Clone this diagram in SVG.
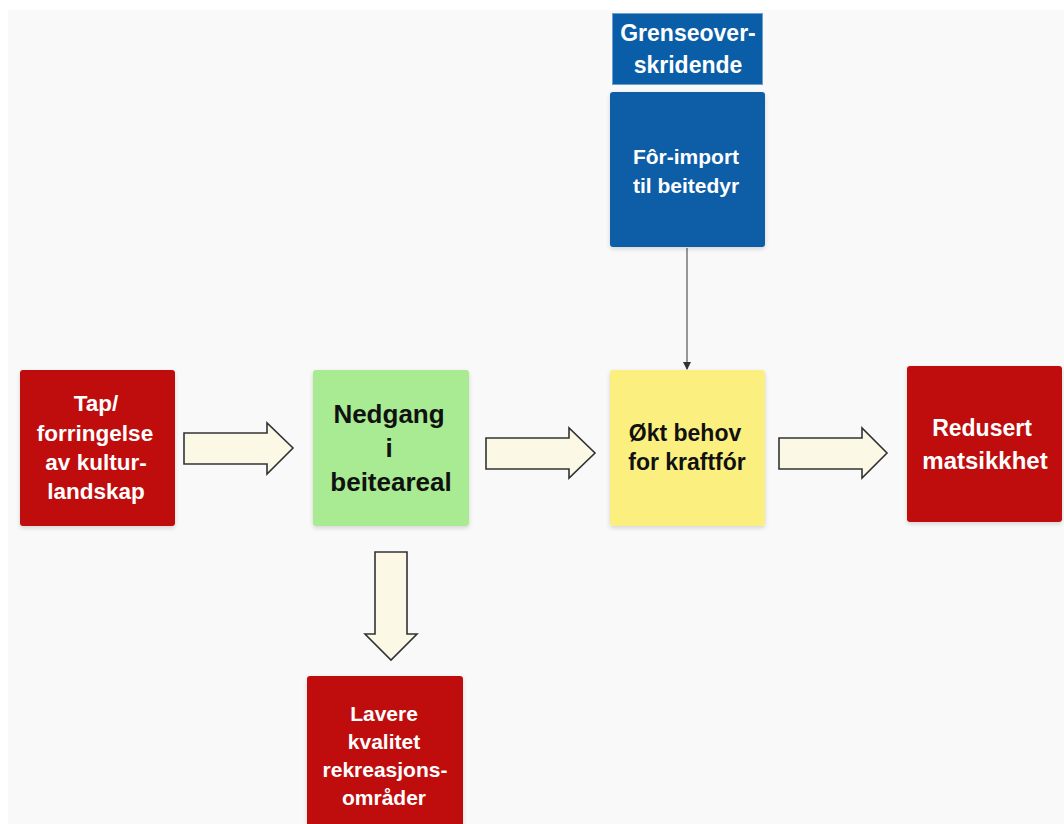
<svg xmlns="http://www.w3.org/2000/svg" width="1064" height="824" viewBox="0 0 1064 824">
<defs>
<style>
.t{font-family:"Liberation Sans",Arial,sans-serif;font-weight:bold;text-anchor:middle}
.w{fill:#ffffff}
.k{fill:#111111}
.red{fill:#bf0d0e}
.blue{fill:#0a5da7}
.bf{fill:#fbf8e6;stroke:#333333;stroke-width:1.6}
</style>
<filter id="sh" x="-10%" y="-10%" width="120%" height="125%">
<feDropShadow dx="0" dy="2" stdDeviation="2" flood-color="#000" flood-opacity="0.15"/>
</filter>
<marker id="ah" markerWidth="8" markerHeight="8" refX="7" refY="4" orient="auto" markerUnits="userSpaceOnUse">
<path d="M0,0 L8,4 L0,8 z" fill="#333"/>
</marker>
</defs>
<rect x="0" y="0" width="1064" height="824" fill="#ffffff"/>
<rect x="8" y="10" width="1056" height="814" fill="#f9f9f9"/>

<g id="connectors">
<path d="M184,433 H267 V423 L293,448 L267,474 V464 H184 Z" class="bf"/>
<path d="M486,438 H569 V428 L595,453 L569,478 V469 H486 Z" class="bf"/>
<path d="M779,438 H862 V428 L887,453 L862,478 V469 H779 Z" class="bf"/>
<path d="M375,552 H407 V634 H417 L391,660 L365,634 H375 Z" class="bf"/>
<line x1="687" y1="248" x2="687" y2="369" stroke="#555" stroke-width="1.2" marker-end="url(#ah)"/>
</g>

<g id="node-grense">
<rect x="612.5" y="13.5" width="150" height="71" class="blue" stroke="#6f9fd0" stroke-width="1"/>
<text class="t w" x="688" y="41" font-size="23">Grenseover-</text>
<text class="t w" x="688" y="73" font-size="23">skridende</text>
</g>

<g id="node-forimport">
<rect x="610" y="92" width="155" height="155" rx="3" class="blue" filter="url(#sh)"/>
<text class="t w" x="686" y="164" font-size="21">Fôr-import</text>
<text class="t w" x="686" y="193" font-size="21">til beitedyr</text>
</g>

<g id="node-tap">
<rect x="20" y="370" width="155" height="156" rx="3" class="red" filter="url(#sh)"/>
<text class="t w" x="96" y="411" font-size="22.5">Tap/</text>
<text class="t w" x="95" y="441" font-size="22.5">forringelse</text>
<text class="t w" x="96" y="470" font-size="22.5">av kultur-</text>
<text class="t w" x="96" y="499" font-size="22.5">landskap</text>
</g>

<g id="node-nedgang">
<rect x="313" y="370" width="156" height="156" rx="3" fill="#a8eb93" filter="url(#sh)"/>
<text class="t k" x="389" y="423" font-size="26">Nedgang</text>
<text class="t k" x="389" y="457" font-size="26">i</text>
<text class="t k" x="391" y="491" font-size="26">beiteareal</text>
</g>

<g id="node-okt">
<rect x="610" y="370" width="155" height="156" rx="3" fill="#fbf07f" filter="url(#sh)"/>
<text class="t k" x="685" y="441" font-size="23">Økt behov</text>
<text class="t k" x="687" y="470" font-size="23">for kraftfór</text>
</g>

<g id="node-redusert">
<rect x="907" y="366" width="155" height="156" rx="3" class="red" filter="url(#sh)"/>
<text class="t w" x="982" y="436" font-size="23">Redusert</text>
<text class="t w" x="985" y="469" font-size="24">matsikkhet</text>
</g>

<g id="node-lavere">
<rect x="307" y="676" width="156" height="160" rx="3" class="red" filter="url(#sh)"/>
<text class="t w" x="384" y="721" font-size="21">Lavere</text>
<text class="t w" x="384" y="749" font-size="21">kvalitet</text>
<text class="t w" x="385" y="777" font-size="21">rekreasjons-</text>
<text class="t w" x="384" y="805" font-size="21">områder</text>
</g>
</svg>
